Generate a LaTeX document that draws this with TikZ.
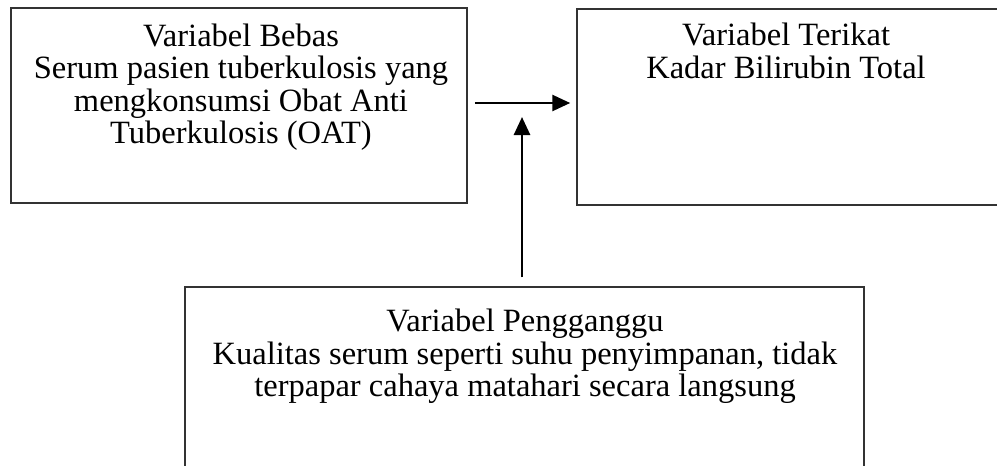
\documentclass[tikz,border=0pt]{standalone}
\usepackage{fontspec}
\setmainfont{Liberation Serif}
\usetikzlibrary{arrows.meta}

\begin{document}
\begin{tikzpicture}[x=1pt,y=-1pt,
    kotak/.style={draw=black!80,line width=1.5pt,inner sep=0pt},
    isi/.style={anchor=north,align=center,inner sep=0pt,font=\fontsize{32.5}{32.5}\selectfont},
    panah/.style={-{Triangle[length=18pt,width=16pt]},line width=2.7pt}]
        \useasboundingbox (0,0) rectangle (997,466);

        % Variabel bebas
        \node[kotak,minimum width=456pt,minimum height=195pt] (bebas) at (239,105.5) {};
        \node[isi] (teksbebas) at (241,23.5) {Variabel Bebas\\Serum pasien tuberkulosis yang\\mengkonsumsi Obat Anti\\Tuberkulosis (OAT)};

        % Variabel terikat
        \node[kotak,minimum width=426pt,minimum height=196pt] (terikat) at (790,107) {};
        \node[isi] (teksterikat) at (786,23) {Variabel Terikat\\Kadar Bilirubin Total};

        % Variabel pengganggu
        \node[kotak,minimum width=679pt,minimum height=200pt] (ganggu) at (524.5,387) {};
        \node[isi] (teksganggu) at (525,309) {Variabel Pengganggu\\Kualitas serum seperti suhu penyimpanan, tidak\\terpapar cahaya matahari secara langsung};

        % Panah
        \draw[panah,shorten <=7pt,shorten >=6pt] (bebas.east |- 0,103) -- (terikat.west |- 0,103);
        \coordinate (temu) at (522,103);
        \draw[panah,shorten <=9pt,shorten >=14pt] (temu |- ganggu.north) -- (temu);
\end{tikzpicture}
\end{document}
